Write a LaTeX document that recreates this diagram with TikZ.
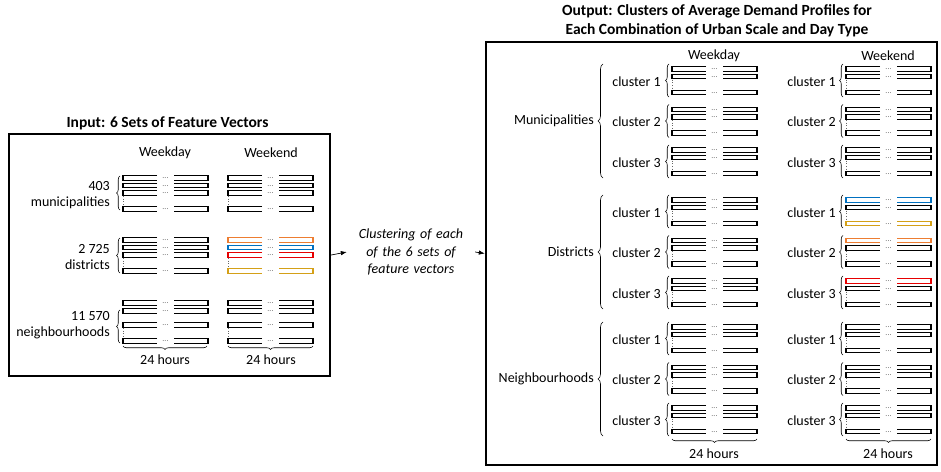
\documentclass[tikz,border=0pt]{standalone}
\usepackage{fontspec}
\setmainfont{Carlito}
\usetikzlibrary{arrows.meta}
\usetikzlibrary{decorations.pathreplacing}

\definecolor{fvorange}{RGB}{237,125,49}
\definecolor{fvblue}{RGB}{0,112,192}
\definecolor{fvred}{RGB}{230,0,0}
\definecolor{fvgold}{RGB}{212,160,23}

% one feature vector: left x, y, colour
\newcommand{\fvbar}[3]{%
  \draw[fvline,#3] ({#1+34},{#2-2.2}) -- (#1,{#2-2.2}) -- (#1,{#2+2.2}) -- ({#1+34},{#2+2.2});
  \draw[fvline,#3] ({#1+51},{#2-2.2}) -- ({#1+85},{#2-2.2}) -- ({#1+85},{#2+2.2}) -- ({#1+51},{#2+2.2});
  \node[fvdots] at ({#1+42.5},{#2+0.5}) {...};
}
% input stack of four vectors
\newcommand{\instack}[6]{%
  \fvbar{#1}{#2}{#3}
  \fvbar{#1}{#2+7.5}{#4}
  \fvbar{#1}{#2+15}{#5}
  \fvbar{#1}{#2+31}{#6}
  \draw[fvvdots] (#1,{#2+18}) -- (#1,{#2+28});
}
\newcommand{\nbstack}[2]{%
  \fvbar{#1}{#2}{black}
  \fvbar{#1}{#2+8}{black}
  \fvbar{#1}{#2+22}{black}
  \fvbar{#1}{#2+38}{black}
  \draw[fvvdots] (#1,{#2+25}) -- (#1,{#2+35});
}
% cluster stack of three vectors
\newcommand{\clstack}[5]{%
  \fvbar{#1}{#2}{#3}
  \fvbar{#1}{#2+7.5}{#4}
  \fvbar{#1}{#2+23.5}{#5}
  \draw[fvvdots] (#1,{#2+10.5}) -- (#1,{#2+20.5});
  \draw[brc] ({#1-3},{#2+28}) -- ({#1-3},{#2-5});
}

\begin{document}
\begin{tikzpicture}[x=1pt,y=-1pt,
    font=\fontsize{14}{16.5}\selectfont,
    fvline/.style={line width=1.1pt},
    fvdots/.style={font=\fontsize{8}{8}\selectfont, text=black!60, inner sep=0pt},
    fvvdots/.style={black!60, dotted, line width=0.7pt},
    brc/.style={decorate, decoration={brace, amplitude=3.5pt}, line width=0.6pt},
    bigbrc/.style={decorate, decoration={brace, amplitude=5pt}, line width=0.6pt},
    lbl/.style={inner sep=0pt, align=right},
    hdr/.style={inner sep=0pt},
    title/.style={font=\fontsize{15.5}{19}\selectfont\bfseries, align=center, inner sep=0pt},
    frame/.style={draw, line width=2.4pt, inner sep=0pt},
    arr/.style={-{Latex[length=6pt,width=4.5pt]}, line width=0.7pt}]
  \useasboundingbox (0,0) rectangle (941,471);

  % input
  \node[title] (intitle) at (167.5,123) {Input: 6 Sets of Feature Vectors};
  \node[frame, minimum width=321pt, minimum height=242pt] (inbox) at (169.5,255) {};
  \node[hdr] (inwd) at (165,153) {Weekday};
  \node[hdr] (inwe) at (271,153) {Weekend};

  \node[lbl, anchor=east] (inmuni) at (110,195) {403\\municipalities};
  \draw[brc] (120,210) -- (120,176);
  \instack{123}{178}{black}{black}{black}{black}
  \instack{228}{178}{black}{black}{black}{black}

  \node[lbl, anchor=east] (indist) at (110,257) {2 725\\districts};
  \draw[brc] (120,273) -- (120,238);
  \instack{123}{240}{black}{black}{black}{black}
  \instack{228}{240}{fvorange}{fvblue}{fvred}{fvgold}

  \node[lbl, anchor=east] (inneigh) at (110,325) {11 570\\neighbourhoods};
  \draw[brc] (120,343) -- (120,310);
  \nbstack{123}{303}
  \nbstack{228}{303}

  \draw[brc] (207,346) -- (123,346);
  \draw[brc] (313,346) -- (228,346);
  \node[hdr] (inhrs1) at (165,360) {24 hours};
  \node[hdr] (inhrs2) at (271,360) {24 hours};

  % clustering step
  \node[align=center, font=\fontsize{14}{17.5}\selectfont\itshape, text width=112pt, inner sep=8pt] (clust) at (411,252)
    {Clustering of each of the 6 sets of feature vectors};

  % output
  \node[title] (outtitle) at (717,21) {Output: Clusters of Average Demand Profiles for\\Each Combination of Urban Scale and Day Type};
  \node[frame, minimum width=451pt, minimum height=423pt] (outbox) at (711.5,253.5) {};
  \node[hdr] (outwd) at (714,56) {Weekday};
  \node[hdr] (outwe) at (888,56) {Weekend};

  \node[lbl, anchor=east] (outmuni) at (594,121) {Municipalities};
  \node[lbl, anchor=east] (outdist) at (594,252) {Districts};
  \node[lbl, anchor=east] (outneigh) at (594,379) {Neighbourhoods};
  \draw[bigbrc] (603,178) -- (603,64);
  \draw[bigbrc] (603,309) -- (603,195);
  \draw[bigbrc] (603,436) -- (603,322);

  \foreach \gy/\gname in {69/muni,200/dist,327/neigh} {
    \foreach \k/\yo in {1/0,2/40.5,3/81} {
      \node[lbl, anchor=east] (wd-\gname-\k) at (661,{\gy+\yo+12.5}) {cluster \k};
      \node[lbl, anchor=east] (we-\gname-\k) at (836,{\gy+\yo+12.5}) {cluster \k};
      \clstack{672}{\gy+\yo}{black}{black}{black}
    }
  }
  \clstack{846}{69}{black}{black}{black}
  \clstack{846}{109.5}{black}{black}{black}
  \clstack{846}{150}{black}{black}{black}
  \clstack{846}{200}{fvblue}{black}{fvgold}
  \clstack{846}{240.5}{fvorange}{black}{black}
  \clstack{846}{281}{fvred}{black}{black}
  \clstack{846}{327}{black}{black}{black}
  \clstack{846}{367.5}{black}{black}{black}
  \clstack{846}{408}{black}{black}{black}

  \draw[brc] (757,439) -- (672,439);
  \draw[brc] (931,439) -- (846,439);
  \node[hdr] (outhrs1) at (714,454) {24 hours};
  \node[hdr] (outhrs2) at (888,454) {24 hours};

  \draw[arr] (inbox.east) -- (clust.west);
  \draw[arr] (clust.east) -- (outbox.west);
\end{tikzpicture}
\end{document}
